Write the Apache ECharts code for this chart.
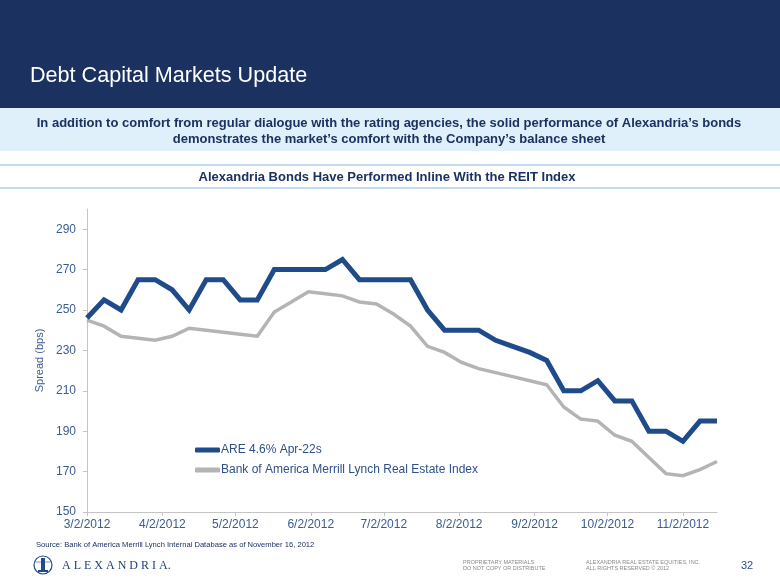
<!DOCTYPE html>
<html>
<head>
<meta charset="utf-8">
<script src="https://cdn.jsdelivr.net/npm/echarts@6/dist/echarts.min.js"></script>
<style>
html,body{margin:0;padding:0;background:#fff;}
#c{width:780px;height:585px;}
</style>
</head>
<body>
<div id="c"></div>
<script>
// Weekly observation dates
var dates = ['2012-03-02','2012-03-09','2012-03-16','2012-03-23','2012-03-30','2012-04-06','2012-04-13','2012-04-20','2012-04-27','2012-05-04','2012-05-11','2012-05-18','2012-05-25','2012-06-01','2012-06-08','2012-06-15','2012-06-22','2012-06-29','2012-07-06','2012-07-13','2012-07-20','2012-07-27','2012-08-03','2012-08-10','2012-08-17','2012-08-24','2012-08-31','2012-09-07','2012-09-14','2012-09-21','2012-09-28','2012-10-05','2012-10-12','2012-10-19','2012-10-26','2012-11-02','2012-11-09','2012-11-16'];
var areSpread = [246,255,250,265,265,260,250,265,265,255,255,270,270,270,270,275,265,265,265,265,250,240,240,240,235,232,229,225,210,210,215,205,205,190,190,185,195,195];
var reitSpread = [245,242,237,236,235,237,241,240,239,238,237,249,254,259,258,257,254,253,248,242,232,229,224,221,219,217,215,213,202,196,195,188,185,177,169,168,171,175];
var seriesNames = ['ARE 4.6% Apr-22s','Bank of America Merrill Lynch Real Estate Index'];
var xTickDates = ['2012-03-02','2012-04-02','2012-05-02','2012-06-02','2012-07-02','2012-08-02','2012-09-02','2012-10-02','2012-11-02'];
var yTicks = [150,170,190,210,230,250,270,290];

function toTs(s){var p=s.split('-');return new Date(+p[0],+p[1]-1,+p[2]).getTime();}
function pair(vals){return dates.map(function(d,i){return [toTs(d),vals[i]];});}
var xTickTs = xTickDates.map(toTs);

var chart = echarts.init(document.getElementById('c'), null, {renderer:'canvas'});
var FONT = "Arial, 'Liberation Sans', sans-serif";
var axisBlue = '#3b5c8f';
var areColor = '#1f4b8b', reitColor = '#b4b4b4';

var option = {
  animation:false,
  backgroundColor:'#ffffff',
  graphic:[
    {type:'rect',shape:{x:0,y:0,width:780,height:108},style:{fill:'#1b3160'},silent:true},
    {type:'rect',shape:{x:0,y:108,width:780,height:43},style:{fill:'#dff0fb'},silent:true},
    {type:'line',shape:{x1:0,y1:165,x2:780,y2:165},style:{stroke:'#bfdcf3',lineWidth:2},silent:true},
    {type:'line',shape:{x1:0,y1:188,x2:780,y2:188},style:{stroke:'#bfdcf3',lineWidth:2},silent:true},
    {type:'text',x:30,y:76,style:{text:'Debt Capital Markets Update',fill:'#ffffff',font:'21.6px '+FONT,verticalAlign:'middle',align:'left'}},
    {type:'text',x:389,y:123,style:{text:'In addition to comfort from regular dialogue with the rating agencies, the solid performance of Alexandria\u2019s bonds',fill:'#1b3160',font:'bold 13px '+FONT,verticalAlign:'middle',align:'center'}},
    {type:'text',x:389,y:139,style:{text:'demonstrates the market\u2019s comfort with the Company\u2019s balance sheet',fill:'#1b3160',font:'bold 13px '+FONT,verticalAlign:'middle',align:'center'}},
    {type:'text',x:387,y:177,style:{text:'Alexandria Bonds Have Performed Inline With the REIT Index',fill:'#1b3160',font:'bold 13px '+FONT,verticalAlign:'middle',align:'center'}},
    {type:'text',x:36,y:545,style:{text:'Source: Bank of America Merrill Lynch Internal Database as of November 16, 2012',fill:'#1b3160',font:'7.6px '+FONT,verticalAlign:'middle',align:'left'}},
    // logo
    {type:'circle',shape:{cx:43,cy:565,r:9},style:{fill:'#ffffff',stroke:'#1f4b8b',lineWidth:1.2},silent:true},
    {type:'rect',shape:{x:41,y:558,width:4,height:12},style:{fill:'#1f4b8b'},silent:true},
    {type:'rect',shape:{x:38,y:570,width:10,height:2},style:{fill:'#1f4b8b'},silent:true},
    {type:'line',shape:{x1:35,y1:562,x2:51,y2:562},style:{stroke:'#1f4b8b',lineWidth:0.6},silent:true},
    {type:'text',x:62,y:566,style:{text:'A L E X A N D R I A.',fill:'#1f3f7a',font:"12px 'Liberation Serif', 'DejaVu Serif', serif",verticalAlign:'middle',align:'left'}},
    {type:'text',x:463,y:562,style:{text:'PROPRIETARY MATERIALS',fill:'#8a8a8a',font:'5.5px '+FONT,verticalAlign:'middle',align:'left'}},
    {type:'text',x:463,y:568.5,style:{text:'DO NOT COPY OR DISTRIBUTE',fill:'#8a8a8a',font:'5.5px '+FONT,verticalAlign:'middle',align:'left'}},
    {type:'text',x:586,y:562,style:{text:'ALEXANDRIA REAL ESTATE EQUITIES, INC.',fill:'#8a8a8a',font:'5.5px '+FONT,verticalAlign:'middle',align:'left'}},
    {type:'text',x:586,y:568.5,style:{text:'ALL RIGHTS RESERVED \u00a9 2012',fill:'#8a8a8a',font:'5.5px '+FONT,verticalAlign:'middle',align:'left'}},
    {type:'text',x:747,y:566,style:{text:'32',fill:'#2f4f86',font:'11px '+FONT,verticalAlign:'middle',align:'center'}}
  ],
  grid:{left:87,right:63,top:209,bottom:73,containLabel:false},
  legend:{
    orient:'vertical',left:190,top:439,itemWidth:25,itemHeight:5,itemGap:8,
    textStyle:{color:'#2e5089',fontSize:12,fontFamily:FONT,padding:[0,0,0,-4]},
    data:[
      {name:seriesNames[0],icon:'roundRect',itemStyle:{color:areColor}},
      {name:seriesNames[1],icon:'roundRect',itemStyle:{color:reitColor}}
    ]
  },
  xAxis:{
    type:'value',
    min:toTs(dates[0]),max:toTs(dates[dates.length-1]),
    axisLine:{show:true,lineStyle:{color:'#c4c4c4',width:1}},
    axisTick:{show:true,length:4,lineStyle:{color:'#c4c4c4'},customValues:xTickTs},
    axisLabel:{customValues:xTickTs,color:axisBlue,fontSize:12,fontFamily:FONT,margin:7,hideOverlap:false,
      formatter:function(v){var d=new Date(v);return (d.getMonth()+1)+'/'+d.getDate()+'/'+d.getFullYear();}},
    splitLine:{show:false}
  },
  yAxis:{
    type:'value',min:150,max:300,
    name:'Spread (bps)',nameLocation:'middle',nameGap:42,nameRotate:90,
    nameTextStyle:{color:axisBlue,fontSize:11,fontFamily:FONT},
    axisLine:{show:true,lineStyle:{color:'#c4c4c4',width:1}},
    axisTick:{show:true,length:4,lineStyle:{color:'#c4c4c4'},customValues:yTicks},
    axisLabel:{customValues:yTicks,color:axisBlue,fontSize:12,fontFamily:FONT,margin:11},
    splitLine:{show:false}
  },
  series:[
    {name:seriesNames[1],type:'line',data:pair(reitSpread),symbol:'none',z:2,
      lineStyle:{color:reitColor,width:3.5,join:'miter'},itemStyle:{color:reitColor}},
    {name:seriesNames[0],type:'line',data:pair(areSpread),symbol:'none',z:3,
      lineStyle:{color:areColor,width:5,join:'miter'},itemStyle:{color:areColor}}
  ]
};
chart.setOption(option);
</script>
</body>
</html>
